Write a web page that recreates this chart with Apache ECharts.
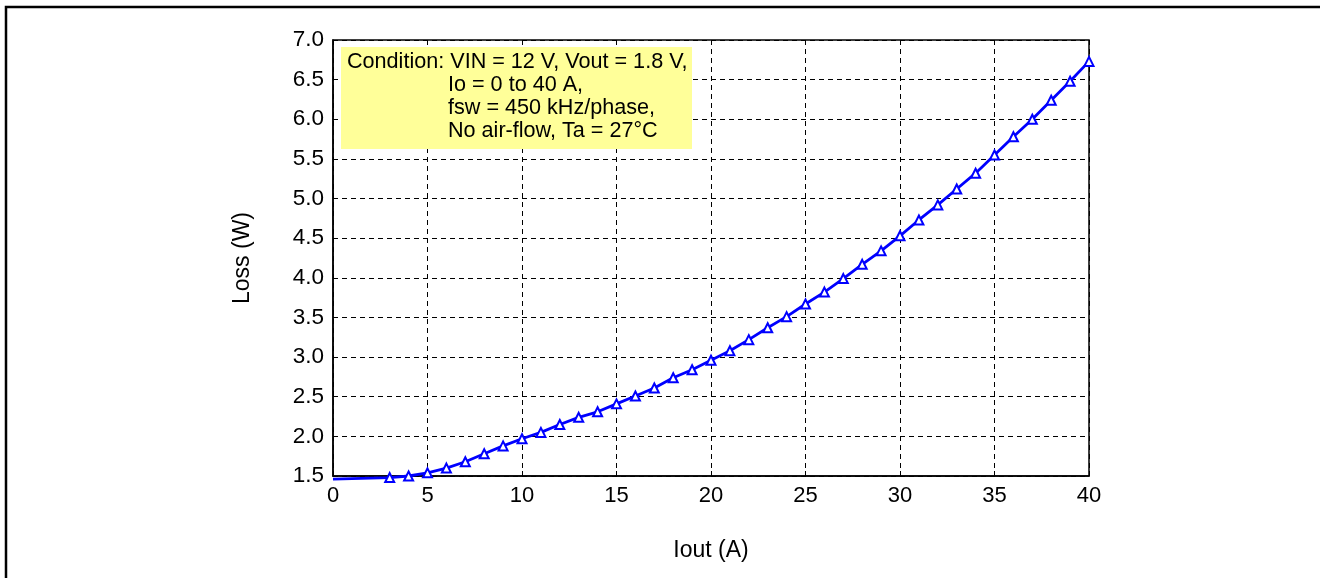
<!DOCTYPE html>
<html>
<head>
<meta charset="utf-8">
<script src="https://cdn.jsdelivr.net/npm/echarts@6/dist/echarts.min.js"></script>
<style>
  html, body { margin: 0; padding: 0; background: #fff; }
  #app { width: 1320px; height: 578px; }
</style>
</head>
<body>
<div id="app"></div>
<script>
// Iout (A) and loss (W)
const iout = [0, 3, 4, 5, 6, 7, 8, 9, 10, 11, 12, 13, 14, 15, 16, 17, 18, 19, 20,
  21, 22, 23, 24, 25, 26, 27, 28, 29, 30, 31, 32, 33, 34, 35, 36, 37, 38, 39, 40];
const loss = [1.46, 1.48, 1.50, 1.54, 1.60, 1.68, 1.78, 1.88, 1.97, 2.05, 2.15, 2.24, 2.31,
  2.41, 2.51, 2.61, 2.74, 2.84, 2.96, 3.08, 3.22, 3.37, 3.51, 3.67, 3.82, 3.99, 4.17,
  4.34, 4.53, 4.73, 4.92, 5.12, 5.32, 5.55, 5.78, 6.00, 6.24, 6.48, 6.73];
const noteLines = [
  "Condition: VIN = 12 V, Vout = 1.8 V,",
  "Io = 0 to 40 A,",
  "fsw = 450 kHz/phase,",
  "No air-flow, Ta = 27°C"
];

const font = "'Liberation Sans', Arial, sans-serif";
const myChart = echarts.init(document.getElementById("app"));

// first point has no marker (it sits under the axis)
const points = iout.map((x, i) =>
  i === 0 ? { value: [x, loss[i]], symbol: "none" } : [x, loss[i]]
);

const dashed = { show: true, lineStyle: { color: "#000", type: [5, 4], width: 1 } };

const noteText = noteLines.map((t, i) => ({
  type: "text",
  x: i === 0 ? 347 : 448,
  y: 62 + i * 23,
  z: 101,
  style: { text: t, font: "21.6px " + font, fill: "#000", verticalAlign: "middle" }
}));

myChart.setOption({
  animation: false,
  grid: {
    left: 333, right: 231, top: 40, bottom: 102,
    show: true, borderColor: "#000", borderWidth: 1.5, backgroundColor: "transparent"
  },
  xAxis: {
    type: "value", min: 0, max: 40, interval: 5,
    name: "Iout (A)", nameLocation: "middle", nameGap: 63,
    nameTextStyle: { fontFamily: font, fontSize: 23, color: "#000" },
    axisLine: { lineStyle: { color: "#000", width: 1.5 } },
    axisTick: { inside: true, length: 5, lineStyle: { color: "#000" } },
    axisLabel: { fontFamily: font, fontSize: 22, color: "#000", margin: 9 },
    splitLine: dashed
  },
  yAxis: {
    type: "value", min: 1.5, max: 7, interval: 0.5,
    name: "Loss (W)", nameLocation: "middle", nameGap: 79,
    nameTextStyle: { fontFamily: font, fontSize: 23, color: "#000" },
    axisLine: { show: true, lineStyle: { color: "#000", width: 1.5 } },
    axisTick: { show: true, inside: true, length: 5, lineStyle: { color: "#000" } },
    axisLabel: {
      fontFamily: font, fontSize: 22.5, color: "#000", margin: 9,
      formatter: (v) => v.toFixed(1)
    },
    splitLine: dashed
  },
  series: [
    {
      type: "line",
      data: points,
      clip: false,
      symbol: "emptyTriangle",
      symbolSize: 9,
      lineStyle: { color: "#0000ff", width: 2.8 },
      itemStyle: { color: "#0000ff", borderColor: "#0000ff", borderWidth: 1.5 },
      z: 5
    }
  ],
  graphic: [
    {
      type: "rect",
      shape: { x: 6, y: 7, width: 1400, height: 700 },
      style: { fill: "none", stroke: "#000", lineWidth: 2.5 },
      silent: true
    },
    {
      type: "rect",
      shape: { x: 341, y: 47, width: 351, height: 102 },
      style: { fill: "#ffff99" },
      z: 100
    },
    ...noteText
  ]
});
</script>
</body>
</html>
